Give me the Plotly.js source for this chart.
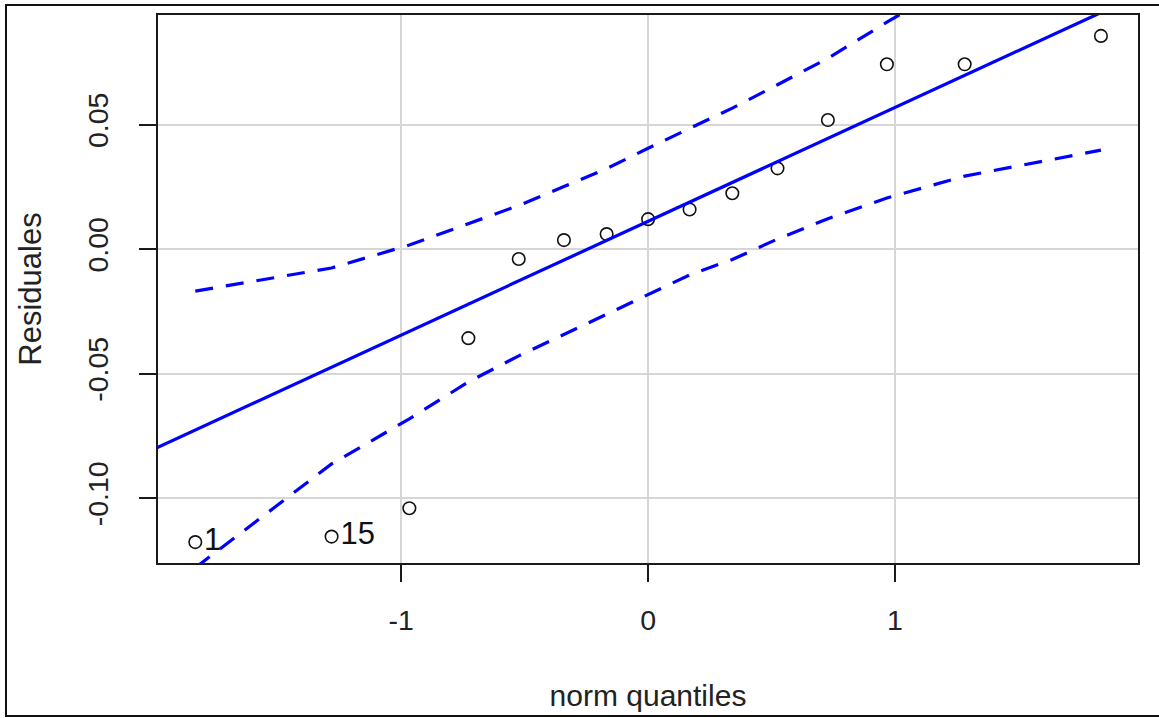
<!DOCTYPE html>
<html><head><meta charset="utf-8">
<script src="https://cdn.plot.ly/plotly-3.0.1.min.js"></script>
<style>
html,body{margin:0;padding:0;background:#fff;overflow:hidden}
#chart{width:1159px;height:718px}
#frame{position:absolute;left:5px;top:4px;width:1160px;height:713px;border:2px solid #111;box-sizing:border-box;pointer-events:none}
</style>
</head><body>
<div id="chart"></div><div id="frame"></div>
<script>
// Theoretical normal quantiles (x) and sorted residuals (y)
const normQuantiles = [-1.834, -1.282, -0.967, -0.728, -0.524, -0.341, -0.168, 0.000, 0.168, 0.341, 0.524, 0.728, 0.967, 1.282, 1.834];
const residuals     = [-0.1177, -0.1155, -0.1041, -0.0358, -0.0040, 0.0036, 0.0060, 0.0120, 0.0159, 0.0224, 0.0324, 0.0518, 0.0742, 0.0742, 0.0856];
const pointLabels   = ["1", "15", "", "", "", "", "", "", "", "", "", "", "", "", ""];

// Confidence envelope (dashed)
const envelopeUpper = [-0.0169, -0.0076, 0.0016, 0.0102, 0.0175, 0.0251, 0.0323, 0.0405, 0.0484, 0.0566, 0.0660, 0.0766, 0.0911, 0.1096, 0.1493];
const envelopeLower = [-0.1280, -0.0863, -0.0682, -0.0534, -0.0429, -0.0343, -0.0261, -0.0181, -0.0104, -0.0042, 0.0040, 0.0122, 0.0205, 0.0293, 0.0397];

// Reference line (solid)
const refLineX = [-2.2, 2.2];
const refLineY = [-0.0894, 0.1117];

// Axis ticks
const xTickVals = [-1, 0, 1];
const xTickText = ["-1", "0", "1"];
const yTickVals = [-0.10, -0.05, 0.00, 0.05];
const yTickText = ["-0.10", "-0.05", "0.00", "0.05"];

const FONT = "Liberation Sans, Arial, sans-serif";
const BLUE = "#0000ff";

const traces = [
  {
    x: normQuantiles, y: residuals, text: pointLabels,
    mode: "markers+text", type: "scatter",
    textposition: "middle right",
    textfont: {family: FONT, size: 31, color: "#111"},
    marker: {symbol: "circle-open", size: 12.5, color: "#111", line: {width: 1.6, color: "#111"}},
    cliponaxis: true
  },
  {
    x: refLineX, y: refLineY, mode: "lines", type: "scatter",
    line: {color: BLUE, width: 3.2}
  },
  {
    x: normQuantiles, y: envelopeUpper, mode: "lines", type: "scatter",
    line: {color: BLUE, width: 3.2, dash: "18px,13px"}
  },
  {
    x: normQuantiles, y: envelopeLower, mode: "lines", type: "scatter",
    line: {color: BLUE, width: 3.2, dash: "18px,13px"}
  }
];

const axisCommon = {
  showgrid: true, gridcolor: "#d6d6d6", gridwidth: 2,
  zeroline: false, showline: true, mirror: true,
  linecolor: "#1a1a1a", linewidth: 2,
  ticks: "outside", ticklen: 17, tickwidth: 2, tickcolor: "#1a1a1a",
  tickfont: {family: FONT, size: 28.5, color: "#222"},
  automargin: false, fixedrange: true
};

const layout = {
  width: 1159, height: 718,
  margin: {l: 158, r: 21, t: 15, b: 155, pad: 0},
  paper_bgcolor: "#fff", plot_bgcolor: "#fff",
  showlegend: false, hovermode: false,
  xaxis: Object.assign({}, axisCommon, {
    range: [-1.985, 1.984],
    tickmode: "array", tickvals: xTickVals, ticktext: xTickText,
    ticklabelstandoff: 14,
    title: {text: "norm quantiles", font: {family: FONT, size: 30, color: "#222"}, standoff: 50}
  }),
  yaxis: Object.assign({}, axisCommon, {
    range: [-0.1261, 0.0940],
    tickmode: "array", tickvals: yTickVals, ticktext: yTickText,
    tickangle: -90,
    ticklabelstandoff: 20,
    title: {text: "Residuales", font: {family: FONT, size: 31, color: "#222"}, standoff: 31}
  })
};

Plotly.newPlot("chart", traces, layout, {staticPlot: true, displayModeBar: false});
</script>
</body></html>
